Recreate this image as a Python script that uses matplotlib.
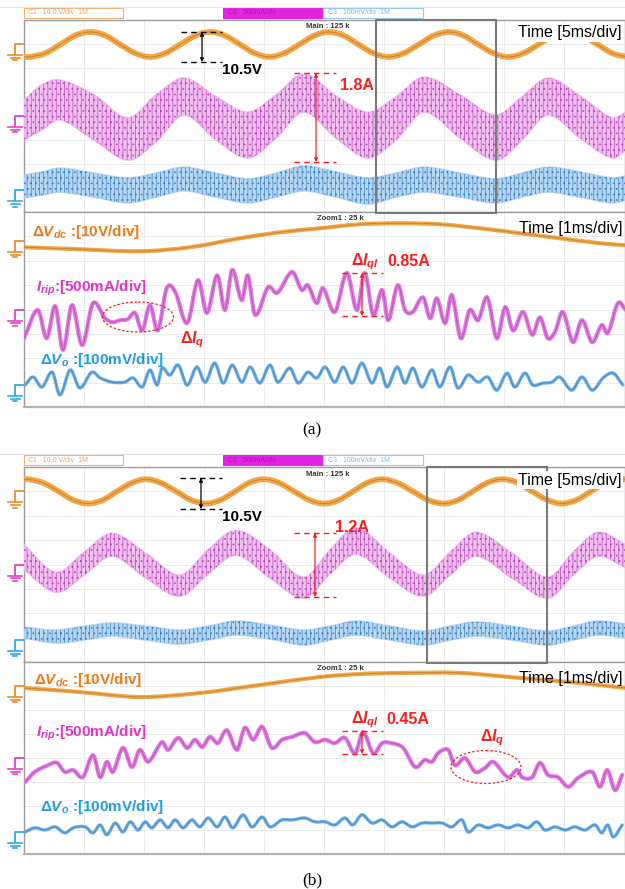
import matplotlib
matplotlib.use('Agg')
import matplotlib.pyplot as plt
from matplotlib.patches import Rectangle, Ellipse, PathPatch
from matplotlib.path import Path
import numpy as np

plt.rcParams['font.family'] = ['Liberation Sans', 'DejaVu Sans']
plt.rcParams['mathtext.fontset'] = 'custom'
plt.rcParams['mathtext.rm'] = 'Liberation Sans:bold'
plt.rcParams['mathtext.it'] = 'Liberation Sans:italic:bold'
plt.rcParams['mathtext.bf'] = 'Liberation Sans:bold'
plt.rcParams['hatch.linewidth'] = 0.5

# ---------------- data (time in ms; Vdc in V, Irip in A, Vo in mV) ----------------
# panel (a) main window (5 ms/div)
a_main_vdc_t = [0.0, 0.5, 1.75, 3.0, 4.25, 5.5, 6.75, 8.0, 9.25, 10.5, 11.75, 13.0, 14.25, 15.5,
                16.75, 18.0, 19.25, 20.5, 21.7, 22.95, 24.2, 25.4, 26.65, 27.9, 29.15, 30.4, 31.65,
                32.9, 34.15, 35.4, 36.6, 37.85, 39.1, 40.35, 41.6, 42.85, 44.1, 45.3, 46.55, 47.8,
                49.05, 50.3]
a_main_vdc = [-5.3, -5.4, -3.9, -0.3, 3.5, 5.0, 3.6, -0.2, -3.8, -5.4, -3.9, -0.3, 3.4, 5.0,
              3.5, -0.2, -3.9, -5.4, -3.8, -0.2, 3.5, 5.0, 3.5, -0.3, -3.9, -5.4, -3.8,
              -0.2, 3.5, 5.0, 3.6, -0.2, -3.8, -5.4, -3.9, -0.3, 3.4, 5.0, 3.5, -0.2,
              -3.9, -5.4]
a_main_env_t = [0, 1.5, 3.0, 5.83, 8.67, 11.0, 13.33, 16.0, 18.67, 21.0, 23.33, 26.0, 28.67,
                31.0, 33.33, 36.33, 39.33, 41.5, 43.67, 46.33, 49.0, 50.17]
a_main_irip_hi = [0.33, 0.65, 0.75, 0.44, -0.04, 0.44, 0.79, 0.40, 0.08, 0.44, 0.875, 0.42, 0.08,
                  0.40, 0.81, 0.44, 0.02, 0.40, 0.79, 0.42, -0.04, 0.08]
a_main_irip_lo = [-0.5, -0.29, -0.08, -0.5, -0.92, -0.54, 0.02, -0.5, -0.875, -0.46, 0.08, -0.46,
                  -0.875, -0.5, 0.08, -0.46, -0.92, -0.5, 0.02, -0.46, -0.875, -0.71]
a_main_vo_hi = [64, 77, 93, 72, 52, 72, 97, 72, 48, 72, 102, 77, 52, 72, 97, 72, 48, 72, 97, 77, 52, 60]
a_main_vo_lo = [-32, -19, -7, -28, -52, -28, -2, -28, -52, -28, -2, -28, -57, -28, -7, -28, -52,
                -28, -7, -28, -52, -40]

# panel (a) zoom window (1 ms/div)
a_zoom_vdc_t = [0, 0.93, 1.93, 2.77, 3.6, 4.27, 4.93, 5.6, 6.27, 6.93, 7.6, 8.27, 8.93, 9.6, 10.03]
a_zoom_vdc = [-2.46, -3.28, -4.1, -2.46, 1.23, 3.69, 5.33, 6.97, 7.38, 6.97, 5.33, 3.28, 1.23, -0.82, -1.64]
a_zoom_irip_t = [0.00, 0.23, 0.38, 0.52, 0.65, 0.80, 0.97, 1.15, 1.35, 1.47,
                 1.60, 1.73, 1.85, 1.97, 2.10, 2.23, 2.38, 2.52, 2.72, 2.90,
                 3.05, 3.22, 3.35, 3.47, 3.63, 3.73, 3.85, 4.07, 4.22, 4.47,
                 4.63, 4.73, 4.88, 4.98, 5.18, 5.38, 5.55, 5.68, 5.82, 5.97,
                 6.07, 6.23, 6.35, 6.48, 6.65, 6.77, 6.88, 7.02, 7.13, 7.28,
                 7.43, 7.57, 7.72, 7.88, 8.02, 8.15, 8.32, 8.47, 8.60, 8.73,
                 8.85, 8.98, 9.15, 9.30, 9.47, 9.63, 9.73, 9.90, 10.03]
a_zoom_irip = [-0.59, -0.01, -0.59, 0.07, -0.83, 0.09, -0.73, 0.13, -0.18, -0.26,
               -0.22, -0.20, -0.07, -0.43, 0.09, -0.43, 0.44, 0.36, -0.28, 0.60,
               -0.07, 0.70, -0.01, 0.81, 0.19, 0.70, -0.11, 0.46, 0.34, 0.77,
               0.40, 0.50, 0.13, 0.44, -0.05, 0.75, -0.01, 0.75, -0.11, 0.40,
               -0.22, 0.50, -0.01, -0.05, 0.25, -0.18, 0.23, -0.28, 0.30, -0.59,
               -0.01, -0.22, 0.25, -0.59, 0.05, -0.43, -0.05, -0.52, -0.16, -0.59,
               -0.46, -0.05, -0.67, -0.22, -0.67, -0.32, -0.48, 0.13, -0.01]
a_zoom_vo_t = [0.02, 0.15, 0.30, 0.47, 0.60, 0.77, 0.93, 1.13, 1.27, 1.47,
               1.68, 1.82, 1.97, 2.10, 2.22, 2.30, 2.43, 2.57, 2.72, 2.88,
               3.02, 3.18, 3.32, 3.47, 3.63, 3.77, 3.93, 4.10, 4.23, 4.43,
               4.57, 4.73, 4.88, 5.02, 5.18, 5.32, 5.47, 5.63, 5.80, 5.93,
               6.05, 6.22, 6.35, 6.48, 6.63, 6.80, 6.93, 7.10, 7.23, 7.40,
               7.57, 7.73, 7.88, 8.05, 8.18, 8.35, 8.48, 8.65, 8.80, 8.93,
               9.13, 9.30, 9.47, 9.65, 9.82, 9.98]
a_zoom_vo = [0, 33, -8, 53, -41, 62, -12, 53, 29, 12,
             12, 29, -8, 62, 0, 70, 41, 82, 0, 74,
             12, 90, 8, 82, 12, 74, 8, 82, 12, 70,
             8, 53, 29, 74, 12, 74, 8, 90, 8, 70,
             -8, 74, 8, 70, -8, 62, -8, 74, -12, 41,
             12, 33, -21, 49, -8, 49, 0, 8, 12, 33,
             -21, 33, -21, 29, 49, 0]

# panel (b) main window (5 ms/div)
b_main_vdc_t = [0.0, 0.33, 1.6, 2.85, 4.1, 5.33, 6.55, 7.75, 9.0, 10.17, 11.4, 12.65, 13.9,
                15.17, 16.4, 17.6, 18.8, 20.0, 21.25, 22.5, 23.75, 25.0, 26.2, 27.4, 28.6,
                29.83, 31.1, 32.4, 33.7, 35.0, 36.2, 37.4, 38.6, 39.83, 41.1, 42.3, 43.6,
                44.83, 46.05, 47.25, 48.45, 49.67, 50.17]
b_main_vdc = [4.9, 5.0, 3.5, 0.1, -3.5, -5.0, -3.6, 0.0, 3.5, 5.0, 3.5, 0.1, -3.5,
              -5.0, -3.5, 0.0, 3.6, 5.0, 3.5, 0.0, -3.5, -5.0, -3.6, -0.1, 3.5,
              5.0, 3.5, 0.0, -3.6, -5.0, -3.5, 0.0, 3.5, 5.0, 3.6, 0.1, -3.5,
              -5.0, -3.5, 0.0, 3.5, 5.0, 4.9]
b_main_env_t = [0, 2.67, 5.0, 7.33, 10.17, 13.0, 15.33, 17.67, 20.5, 23.33, 25.5, 27.67, 30.5,
                33.33, 35.5, 37.67, 40.67, 43.67, 45.75, 47.83, 50.17]
b_main_irip_hi = [0.40, -0.16, 0.25, 0.64, 0.23, -0.22, 0.30, 0.70, 0.30, -0.26, 0.30, 0.75, 0.23,
                  -0.22, 0.25, 0.66, 0.23, -0.26, 0.25, 0.66, 0.40]
b_main_irip_lo = [-0.11, -0.57, -0.22, 0.17, -0.28, -0.65, -0.20, 0.19, -0.28, -0.69, -0.20, 0.21,
                  -0.28, -0.65, -0.22, 0.17, -0.28, -0.69, -0.22, 0.17, -0.07]
b_main_vo_hi = [53, 41, 57, 70, 57, 41, 57, 78, 61, 41, 57, 78, 57, 37, 57, 74, 57, 37, 57, 78, 66]
b_main_vo_lo = [8, -12, 0, 16, 0, -16, 0, 20, 4, -20, 0, 20, 0, -20, 0, 16, 0, -20, 0, 20, 8]

# panel (b) zoom window (1 ms/div)
b_zoom_vdc_t = [0, 0.93, 1.93, 2.93, 3.93, 4.93, 5.6, 6.27, 7.27, 8.27, 9.27, 10.03]
b_zoom_vdc = [-0.83, -2.5, -4.58, -2.92, 0.42, 3.75, 5.0, 5.42, 5.42, 3.33, 1.25, -0.83]
b_zoom_irip_t = [0.02, 0.18, 0.40, 0.55, 0.68, 0.82, 0.98, 1.15, 1.27, 1.38,
                 1.48, 1.65, 1.80, 1.93, 2.07, 2.30, 2.40, 2.57, 2.72, 2.85,
                 2.97, 3.10, 3.23, 3.38, 3.55, 3.68, 3.82, 3.97, 4.13, 4.30,
                 4.47, 4.68, 4.85, 5.02, 5.18, 5.35, 5.52, 5.65, 5.82, 5.97,
                 6.13, 6.32, 6.52, 6.68, 6.80, 6.90, 7.07, 7.18, 7.35, 7.52,
                 7.68, 7.82, 8.07, 8.22, 8.30, 8.47, 8.60, 8.73, 8.90, 9.07,
                 9.23, 9.47, 9.60, 9.72, 9.85, 9.97]
b_zoom_irip = [-0.50, -0.29, -0.15, -0.10, -0.29, -0.25, -0.40, 0.06, -0.40, -0.08,
               -0.29, 0.21, -0.19, 0.17, -0.08, 0.33, 0.17, 0.42, 0.21, 0.38,
               0.23, 0.44, 0.31, 0.58, 0.17, 0.63, 0.38, 0.65, 0.21, 0.38,
               0.44, 0.52, 0.33, 0.38, 0.31, 0.42, 0.10, 0.54, 0.10, 0.31,
               0.31, 0.21, -0.19, -0.04, -0.08, 0.10, 0.17, -0.15, 0.00, -0.29,
               -0.21, -0.08, -0.40, -0.25, -0.40, -0.40, -0.10, -0.35, -0.40, -0.60,
               -0.42, -0.29, -0.60, -0.25, -0.67, -0.35]
b_zoom_vo_t = [0.02, 0.18, 0.35, 0.52, 0.68, 0.82, 1.02, 1.15, 1.27, 1.38,
               1.52, 1.65, 1.77, 1.90, 2.02, 2.13, 2.27, 2.40, 2.52, 2.65,
               2.80, 2.93, 3.07, 3.22, 3.35, 3.48, 3.65, 3.80, 3.97, 4.10,
               4.30, 4.47, 4.68, 4.85, 5.02, 5.18, 5.35, 5.48, 5.63, 5.80,
               5.97, 6.13, 6.30, 6.47, 6.63, 6.80, 6.97, 7.13, 7.30, 7.40,
               7.57, 7.73, 7.90, 8.07, 8.23, 8.40, 8.55, 8.68, 8.85, 9.02,
               9.18, 9.35, 9.52, 9.63, 9.73, 9.82, 9.97]
b_zoom_vo = [0, 17, 8, 21, -4, 17, 21, -4, 29, -12,
             37, 0, 42, 8, 42, 17, 50, 17, 50, 17,
             50, 21, 58, 21, 62, 17, 71, 21, 62, 21,
             50, 50, 58, 42, 42, 29, 58, 29, 71, 37,
             50, 21, 42, 21, 37, 37, 37, 21, 50, 0,
             29, 17, 29, 17, 29, 17, 42, 8, 21, 8,
             21, 8, 29, -4, 29, -21, 29]

# channel scales (per division)
SC_VDC, SC_IRIP, SC_VO = 10.0, 0.5, 100.0

# ---------------- styles ----------------
C_OR, C_OR_CORE = '#F3A746', '#A8641E'
C_MG, C_MG_CORE = '#E27AE2', '#9A329A'
C_BL, C_BL_CORE = '#6CAEE2', '#2E74BC'
C_RED = '#FF1E1E'
GRID = '#EBEBEB'
FRAME = '#9C9C9C'

W, H = 625, 889
fig = plt.figure(figsize=(W / 100, H / 100), dpi=100)
fig.patch.set_facecolor('white')

ov = fig.add_axes([0, 0, 1, 1], zorder=10)
ov.set_xlim(0, W)
ov.set_ylim(H, 0)
ov.axis('off')
ov.patch.set_visible(False)


def curve(x, y):
    """Smooth cubic path through the given points (rendering only)."""
    x = np.asarray(x, float)
    y = np.asarray(y, float)
    n = len(x)
    m = np.empty(n)
    m[1:-1] = (y[2:] - y[:-2]) / (x[2:] - x[:-2])
    m[0] = (y[1] - y[0]) / (x[1] - x[0])
    m[-1] = (y[-1] - y[-2]) / (x[-1] - x[-2])
    verts = [(x[0], y[0])]
    codes = [Path.MOVETO]
    for i in range(n - 1):
        dx = x[i + 1] - x[i]
        verts += [(x[i] + dx / 3, y[i] + m[i] * dx / 3),
                  (x[i + 1] - dx / 3, y[i + 1] - m[i + 1] * dx / 3),
                  (x[i + 1], y[i + 1])]
        codes += [Path.CURVE4] * 3
    return verts, codes


def screen(top, bot, xmax, div, bottom_lw):
    ax = fig.add_axes([24 / W, 1 - bot / H, 602 / W, (bot - top) / H])
    ax.set_xlim(0, xmax)
    ax.set_ylim(0, 8)
    ax.set_xticks(np.arange(div, xmax, div))
    ax.set_yticks(np.arange(1, 8))
    ax.tick_params(length=0, labelbottom=False, labelleft=False)
    ax.grid(True, color=GRID, lw=0.7)
    for s in ['left', 'top']:
        ax.spines[s].set_color(FRAME)
        ax.spines[s].set_linewidth(1.0)
    ax.spines['bottom'].set_color('#B4B4B4')
    ax.spines['bottom'].set_linewidth(bottom_lw)
    ax.spines['right'].set_visible(False)
    return ax


def ground(ax, g, color):
    ypx = H - ax.transData.transform((0, g))[1]
    ov.plot([24, 15, 15], [ypx, ypx, ypx + 11], color=color, lw=1.3, solid_capstyle='butt')
    for i, (a, b) in enumerate([(8, 22), (10.5, 19.5), (13, 17)]):
        ov.plot([a, b], [ypx + 11 + 2.6 * i] * 2, color=color, lw=1.2)


def line_trace(ax, t, v, g, sc, col, core, lw):
    y = g + np.asarray(v, float) / sc
    verts, codes = curve(t, y)
    p = Path(verts, codes)
    ax.add_patch(PathPatch(p, fill=False, ec=col, lw=lw, capstyle='round',
                           joinstyle='round', zorder=3))
    ax.add_patch(PathPatch(p, fill=False, ec=core, lw=0.8, alpha=0.5, zorder=4))


def band_trace(ax, t, lo, hi, g, sc, face, hatchc):
    t = np.asarray(t, float)
    yh = g + np.asarray(hi, float) / sc
    yl = g + np.asarray(lo, float) / sc
    vu, cu = curve(t, yh)
    vl, cl = curve(t[::-1], yl[::-1])
    verts = vu + [vl[0]] + vl[1:] + [vu[0]]
    codes = cu + [Path.LINETO] + cl[1:] + [Path.CLOSEPOLY]
    p = Path(verts, codes)
    ax.add_patch(PathPatch(p, fc=face, ec=face, lw=1.2, alpha=0.85, zorder=3))
    ax.add_patch(PathPatch(p, fill=False, ec=hatchc, hatch='||||...', lw=0, zorder=3))


def header(yc):
    ov.plot([0, W], [yc - 6, yc - 6], color='#E4E4E4', lw=0.8)
    ov.add_patch(Rectangle((24, yc - 5), 99, 10, fill=False, ec='#F2B273', lw=0.8))
    ov.text(28, yc, 'C1   10.0 V/div  1M', fontsize=5, color='#E9A45A', va='center')
    ov.add_patch(Rectangle((223, yc - 5), 100, 10, fc='#E024E0', ec='#E024E0', lw=0.8))
    ov.text(228, yc, 'C2   500mA/div', fontsize=5, color='#B410B4', va='center')
    ov.add_patch(Rectangle((323, yc - 5), 100, 10, fill=False, ec='#96CAF0', lw=0.8))
    ov.text(328, yc, 'C3   100mV/div  1M', fontsize=5, color='#7DB9E8', va='center')


def vmark(x0, x1, xa, yt, yb, color):
    ov.plot([x0, x1], [yt, yt], color=color, lw=1.0, ls=(0, (4, 3)))
    ov.plot([x0, x1], [yb, yb], color=color, lw=1.0, ls=(0, (4, 3)))
    ov.annotate('', xy=(xa, yt), xytext=(xa, yb),
                arrowprops=dict(arrowstyle='<|-|>', color=color, lw=0.9,
                                shrinkA=0, shrinkB=0, mutation_scale=5))


def draw_panel(main_top, main_bot, zoom_bot, g_main, g_zoom,
               mvt, mv, met, mi_lo, mi_hi, mo_lo, mo_hi,
               zvt, zv, zit, zi, zot, zo, rect_x, label, lab_y):
    axm = screen(main_top, main_bot, 602 / 12, 5, 1.0)
    axz = screen(main_bot, zoom_bot, 602 / 60, 1, 1.6)
    # main window
    band_trace(axm, met, mi_lo, mi_hi, g_main[1], SC_IRIP, '#F0B6F0', '#B84CB8')
    band_trace(axm, met, mo_lo, mo_hi, g_main[2], SC_VO, '#ABD2F2', '#3F80C4')
    line_trace(axm, mvt, mv, g_main[0], SC_VDC, C_OR, C_OR_CORE, 4.2)
    # zoom window
    line_trace(axz, zvt, zv, g_zoom[0], SC_VDC, C_OR, C_OR_CORE, 3.0)
    line_trace(axz, zit, zi, g_zoom[1], SC_IRIP, C_MG, C_MG_CORE, 3.0)
    line_trace(axz, zot, zo, g_zoom[2], SC_VO, C_BL, C_BL_CORE, 2.4)
    for ax, gs in [(axm, g_main), (axz, g_zoom)]:
        for g, c in zip(gs, ['#F08A24', '#E840C8', '#2FA8E8']):
            ground(ax, g, c)
    ov.add_patch(Rectangle((rect_x, main_top), 120, main_bot - main_top + 1, fill=False,
                           ec='#7A7A7A', lw=1.5))
    ov.text(328, main_top + 7, 'Main : 125 k', fontsize=5.5, color='#333333',
            ha='center', va='center', fontweight='bold')
    ov.text(340, main_bot + 7, 'Zoom1 : 25 k', fontsize=5.5, color='#333333',
            ha='center', va='center', fontweight='bold')
    ov.text(518, main_top + 13, 'Time [5ms/div]', fontsize=11.5, va='center',
            bbox=dict(fc='white', ec='none', pad=1.0))
    ov.text(519, main_bot + 17, 'Time [1ms/div]', fontsize=11.5, va='center')
    ov.text(312, lab_y, label, fontsize=12.5, family='Liberation Serif', ha='center', va='center')


# ---------------- panel (a) ----------------
header(13)
draw_panel(20, 212, 407, (7.0, 4.0, 0.9), (6.8, 4.0, 0.9),
           a_main_vdc_t, a_main_vdc, a_main_env_t, a_main_irip_lo, a_main_irip_hi,
           a_main_vo_lo, a_main_vo_hi,
           a_zoom_vdc_t, a_zoom_vdc, a_zoom_irip_t, a_zoom_irip, a_zoom_vo_t, a_zoom_vo,
           376, '(a)', 430)
vmark(181, 222, 202, 32, 62, 'black')
ov.text(222, 70, '10.5V', fontsize=11, fontweight='bold', va='center')
vmark(294, 336, 316, 73, 162, C_RED)
ov.text(340, 85, '1.8A', fontsize=11.5, fontweight='bold', color=C_RED, va='center')
ov.text(32, 232, r'$\Delta V_{dc}$ :[10V/div]', fontsize=11, fontweight='bold',
        color='#F07A1A', va='center')
ov.text(36, 288, r'$I_{rip}$:[500mA/div]', fontsize=11, fontweight='bold',
        color='#E633C8', va='center')
ov.text(40, 360, r'$\Delta V_o$ :[100mV/div]', fontsize=11, fontweight='bold',
        color='#1E9FE3', va='center')
ov.add_patch(Ellipse((138, 317), 71, 30, fill=False, ec=C_RED, ls=(0, (2, 1.5)), lw=0.9))
ov.text(180, 340, r'$\Delta I_q$', fontsize=11.5, color=C_RED, va='center')
vmark(342, 383, 362, 273, 316, C_RED)
ov.text(351, 262, r'$\Delta I_{ql}$', fontsize=11.5, color=C_RED, va='center')
ov.text(387, 262, '0.85A', fontsize=11.5, fontweight='bold', color=C_RED, va='center')

# ---------------- panel (b) ----------------
header(460)
draw_panel(467, 662, 854, (7.0, 4.0, 0.9), (7.0, 4.0, 0.92),
           b_main_vdc_t, b_main_vdc, b_main_env_t, b_main_irip_lo, b_main_irip_hi,
           b_main_vo_lo, b_main_vo_hi,
           b_zoom_vdc_t, b_zoom_vdc, b_zoom_irip_t, b_zoom_irip, b_zoom_vo_t, b_zoom_vo,
           427, '(b)', 880)
vmark(180, 222, 201, 478, 509, 'black')
ov.text(222, 517, '10.5V', fontsize=11, fontweight='bold', va='center')
vmark(294, 336, 315, 533, 597, C_RED)
ov.text(335, 527, '1.2A', fontsize=11.5, fontweight='bold', color=C_RED, va='center')
ov.text(34, 680, r'$\Delta V_{dc}$ :[10V/div]', fontsize=11, fontweight='bold',
        color='#F07A1A', va='center')
ov.text(36, 733, r'$I_{rip}$:[500mA/div]', fontsize=11, fontweight='bold',
        color='#E633C8', va='center')
ov.text(40, 807, r'$\Delta V_o$ :[100mV/div]', fontsize=11, fontweight='bold',
        color='#1E9FE3', va='center')
vmark(342, 383, 362, 731, 754, C_RED)
ov.text(351, 720, r'$\Delta I_{ql}$', fontsize=11.5, color=C_RED, va='center')
ov.text(386, 720, '0.45A', fontsize=11.5, fontweight='bold', color=C_RED, va='center')
ov.add_patch(Ellipse((486, 767), 70, 33, fill=False, ec=C_RED, ls=(0, (2, 1.5)), lw=0.9))
ov.text(480, 738, r'$\Delta I_q$', fontsize=11.5, color=C_RED, va='center')

fig.savefig('out.png', dpi=100)
